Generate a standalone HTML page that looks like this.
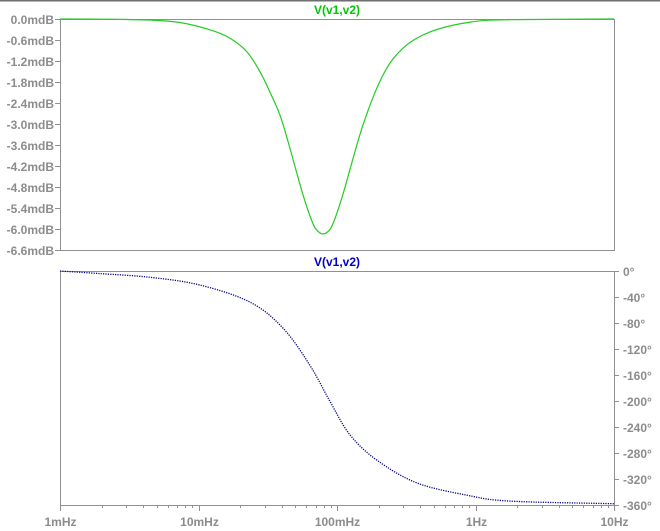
<!DOCTYPE html>
<html><head><meta charset="utf-8">
<style>
html,body{margin:0;padding:0;background:#fff;}
svg{display:block;font-family:"Liberation Sans",Arial,sans-serif;}
.lbl{fill:#8c8c8c;font-size:12px;font-weight:bold;}
</style></head>
<body>
<svg id="chart" width="660" height="531" viewBox="0 0 660 531">
<line x1="0" y1="0.5" x2="660" y2="0.5" stroke="#6e6e6e" stroke-width="2"/>
<g id="g"></g>
</svg>
<script>
const magFreqs=[0.001,0.002,0.00447,0.00735,0.0121,0.0169,0.0224,0.0278,0.0328,0.0387,0.0443,0.0569,0.0671,0.0731,0.0793,0.0861,0.0935,0.110,0.154,0.215,0.300,0.469,0.912,1.77,10];
const magValues=[0,-0.005,-0.03,-0.1,-0.31,-0.55,-0.94,-1.51,-2.09,-2.74,-3.5,-5.03,-5.85,-6.07,-6.14,-6.07,-5.85,-5.03,-3.03,-1.6,-0.83,-0.37,-0.09,-0.02,0];
const phFreqs=[0.001,0.00195,0.00447,0.0102,0.0236,0.0408,0.0637,0.0892,0.124,0.194,0.377,0.872,1.77,10];
const phValues=[0,-4,-9.7,-21.5,-48,-88,-145,-201,-252,-291,-326,-345,-354,-358];
const magTicks=["0.0mdB","-0.6mdB","-1.2mdB","-1.8mdB","-2.4mdB","-3.0mdB","-3.6mdB","-4.2mdB","-4.8mdB","-5.4mdB","-6.0mdB","-6.6mdB"];
const magTickVals=[0,-0.6,-1.2,-1.8,-2.4,-3.0,-3.6,-4.2,-4.8,-5.4,-6.0,-6.6];
const phTickVals=[0,-40,-80,-120,-160,-200,-240,-280,-320,-360];
const xTickLabels=["1mHz","10mHz","100mHz","1Hz","10Hz"];
const xTickVals=[0.001,0.01,0.1,1,10];

const NS="http://www.w3.org/2000/svg";
const g=document.getElementById('g');
const L=60,R=614;
const T1=19,B1=250,T2=271,B2=505;
function xs(f){return L+(Math.log10(f)+3)/4*(R-L);}
function ym(v){return T1+(v-0)/(-6.6)*(B1-T1);}
function yp(v){return T2+(v-0)/(-360)*(B2-T2);}
function el(tag,attrs,text){const e=document.createElementNS(NS,tag);for(const k in attrs)e.setAttribute(k,attrs[k]);if(text!==undefined)e.textContent=text;g.appendChild(e);return e;}
function smooth(pts){let d="M"+pts[0][0]+","+pts[0][1];for(let i=0;i<pts.length-1;i++){const p0=pts[Math.max(0,i-1)],p1=pts[i],p2=pts[i+1],p3=pts[Math.min(pts.length-1,i+2)];const c1x=p1[0]+(p2[0]-p0[0])/6,c1y=p1[1]+(p2[1]-p0[1])/6,c2x=p2[0]-(p3[0]-p1[0])/6,c2y=p2[1]-(p3[1]-p1[1])/6;d+=" C"+c1x+","+c1y+" "+c2x+","+c2y+" "+p2[0]+","+p2[1];}return d;}

let e;
e=el('rect',{x:L+0.5,y:T1+0.5,width:R-L,height:B1-T1,fill:'none',stroke:'#909090'});


e=el('rect',{x:L+0.5,y:T2+0.5,width:R-L,height:B2-T2,fill:'none',stroke:'#909090'});



e=el('text',{x:337,y:14,'text-anchor':'middle',fill:'#00c800','font-size':'12','font-weight':'bold'},'V(v1,v2)');


e=el('text',{x:337,y:266,'text-anchor':'middle',fill:'#0000c0','font-size':'12','font-weight':'bold'},'V(v1,v2)');



magTickVals.forEach((v,i)=>{const y=Math.round(ym(v))+0.5;
 e=el('line',{x1:L-5,y1:y,x2:L,y2:y,stroke:'#909090'});
 
 
 e=el('text',{x:L-6,y:y+4.5,'text-anchor':'end',class:'lbl'},magTicks[i]);
 
 
});
phTickVals.forEach(v=>{const y=Math.round(yp(v))+0.5;
 e=el('line',{x1:R,y1:y,x2:R+5,y2:y,stroke:'#909090'});
 
 
 e=el('text',{x:R+9,y:y+4.5,'text-anchor':'start',class:'lbl'},v+'°');
 
 
});
for(let dec=-3;dec<1;dec++){for(let m=2;m<10;m++){const x=Math.round(xs(m*Math.pow(10,dec)))+0.5;
 e=el('line',{x1:x,y1:B2,x2:x,y2:B2+3,stroke:'#909090'});
 
 
}}
xTickVals.forEach((f,i)=>{const x=Math.round(xs(f))+0.5;
 e=el('line',{x1:x,y1:B2,x2:x,y2:B2+6,stroke:'#909090'});
 
 
 e=el('text',{x:x,y:526,'text-anchor':'middle',class:'lbl'},xTickLabels[i]);
 
 
});

const mp=magFreqs.map((f,i)=>[xs(f),ym(magValues[i])]);
e=el('path',{d:smooth(mp),fill:'none',stroke:'#22cc22','stroke-width':'1.2'});


const pp=phFreqs.map((f,i)=>[xs(f),yp(phValues[i])]);
e=el('path',{d:smooth(pp),fill:'none',stroke:'#000080','stroke-width':'1.3','stroke-dasharray':'1.2,1.2'});


</script>
</body></html>
